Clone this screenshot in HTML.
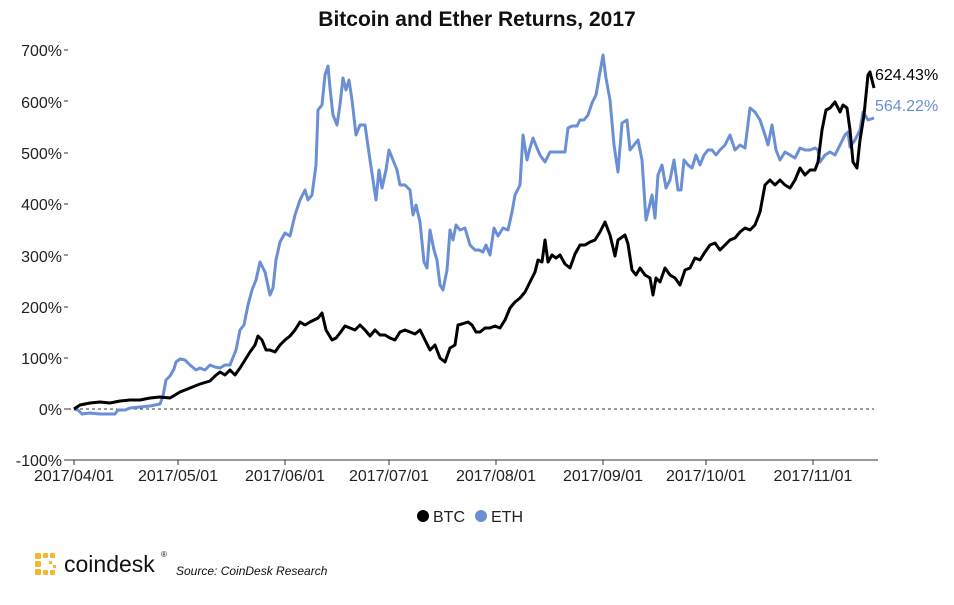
<!DOCTYPE html>
<html><head><meta charset="utf-8"><style>
body{margin:0;background:#fff;width:954px;height:600px;overflow:hidden;font-family:"Liberation Sans",sans-serif}
</style></head><body>
<svg width="954" height="600" xmlns="http://www.w3.org/2000/svg" font-family="Liberation Sans, sans-serif">
<text x="477" y="26" text-anchor="middle" font-size="21" font-weight="bold" fill="#111">Bitcoin and Ether Returns, 2017</text>
<g font-size="16" fill="#222" text-anchor="end">
<text x="62" y="56">700%</text><text x="62" y="108">600%</text><text x="62" y="159">500%</text>
<text x="62" y="210">400%</text><text x="62" y="262">300%</text><text x="62" y="313">200%</text>
<text x="62" y="364">100%</text><text x="62" y="415">0%</text><text x="62" y="466">-100%</text>
</g>
<g stroke="#333" stroke-width="1">
<line x1="64" y1="50" x2="68" y2="50"/><line x1="64" y1="101" x2="68" y2="101"/><line x1="64" y1="153" x2="68" y2="153"/>
<line x1="64" y1="204" x2="68" y2="204"/><line x1="64" y1="255" x2="68" y2="255"/><line x1="64" y1="307" x2="68" y2="307"/>
<line x1="64" y1="358" x2="68" y2="358"/><line x1="64" y1="409" x2="68" y2="409"/>
<line x1="64" y1="460" x2="878" y2="460"/>
<line x1="74" y1="460" x2="74" y2="465"/><line x1="178" y1="460" x2="178" y2="465"/><line x1="285" y1="460" x2="285" y2="465"/>
<line x1="389" y1="460" x2="389" y2="465"/><line x1="496" y1="460" x2="496" y2="465"/><line x1="603" y1="460" x2="603" y2="465"/>
<line x1="706" y1="460" x2="706" y2="465"/><line x1="813" y1="460" x2="813" y2="465"/>
</g>
<line x1="68" y1="409" x2="874" y2="409" stroke="#333" stroke-width="1" stroke-dasharray="3,3"/>
<g font-size="16" fill="#222" text-anchor="middle">
<text x="74" y="481">2017/04/01</text><text x="178" y="481">2017/05/01</text><text x="285" y="481">2017/06/01</text>
<text x="389" y="481">2017/07/01</text><text x="496" y="481">2017/08/01</text><text x="603" y="481">2017/09/01</text>
<text x="706" y="481">2017/10/01</text><text x="813" y="481">2017/11/01</text>
</g>
<polyline fill="none" stroke="#6a8fd4" stroke-width="3" stroke-linejoin="round" points="74,409 78,410 82,414 90,413 100,414 110,414 115,414 118,410 125,410 130,408 140,407 150,406 160,404 163,396 166,380 170,376 174,369 176,362 180,359 185,360 190,365 196,370 200,368 205,370 210,365 215,367 220,368 225,365 230,365 236,350 240,330 244,325 248,305 252,290 256,280 260,262 265,272 270,295 273,288 276,260 280,242 285,233 290,236 295,215 300,200 305,190 308,200 312,195 316,165 318,110 322,105 325,75 328,66 330,88 333,115 337,125 340,105 343,78 346,90 349,80 352,100 356,135 360,125 365,125 370,160 373,180 376,200 379,170 382,188 386,170 389,150 393,160 397,170 400,185 405,185 410,190 413,215 416,205 420,222 424,262 427,268 430,230 434,250 437,260 440,285 443,290 447,270 450,230 453,240 456,225 460,230 465,228 470,245 475,250 479,250 483,252 486,245 490,255 494,228 498,236 503,228 508,230 512,212 515,195 520,185 523,135 527,160 530,148 533,138 537,148 540,155 545,162 550,152 555,152 560,152 565,152 568,128 572,126 577,126 580,120 584,120 588,115 592,103 596,95 600,72 603,55 606,78 610,100 614,145 618,172 622,123 627,120 630,150 634,145 638,140 642,160 646,220 649,208 652,195 655,218 658,175 662,165 666,188 670,180 674,160 678,190 681,190 684,160 688,165 692,168 696,155 700,165 704,155 708,150 712,150 716,155 720,150 725,145 730,135 735,150 740,145 745,148 750,108 755,112 760,120 765,135 768,145 772,125 776,150 780,160 785,152 790,155 795,158 800,148 805,150 810,150 815,148 818,150 820,162 825,155 830,152 835,155 840,145 845,135 848,132 850,147 855,140 860,130 863,112 868,120 874,118"/>
<polyline fill="none" stroke="#000" stroke-width="3" stroke-linejoin="round" points="74,409 80,405 90,403 100,402 110,403 120,401 130,400 140,400 150,398 160,397 170,398 175,395 180,392 190,388 200,384 210,381 215,376 220,372 225,375 230,370 235,375 240,368 245,360 250,352 255,345 258,336 262,340 266,350 270,350 275,352 280,345 285,340 290,336 295,330 300,322 305,325 310,322 318,318 322,313 326,330 332,340 336,338 340,333 345,326 350,328 355,330 360,325 365,330 370,336 375,330 380,335 385,335 390,338 395,340 400,332 405,330 410,332 415,334 420,330 425,340 430,350 435,345 440,358 445,362 450,348 455,345 458,325 462,324 468,322 472,325 476,332 480,332 485,328 490,328 495,326 500,328 505,320 510,308 515,302 520,298 525,292 530,282 535,272 538,260 542,262 545,240 548,262 552,255 556,258 560,255 565,264 570,268 575,254 580,245 585,245 590,242 595,240 600,232 605,222 610,235 615,256 618,240 625,235 628,244 632,270 636,275 640,268 645,275 650,278 653,295 656,278 660,282 665,268 670,275 675,278 680,285 685,270 690,268 695,258 700,260 705,252 710,245 715,243 720,250 725,245 730,240 735,238 740,232 745,228 750,230 755,225 760,212 765,185 770,180 775,185 780,180 785,185 790,188 795,180 800,168 805,175 810,170 815,170 818,162 822,130 826,110 830,108 835,102 840,112 843,105 847,108 850,130 853,162 857,168 860,140 864,115 868,75 870,72 874,88"/>
<text x="875" y="80" font-size="16" fill="#000">624.43%</text>
<text x="875" y="111" font-size="16" fill="#6a8fd4">564.22%</text>
<circle cx="423" cy="516" r="6" fill="#000"/><text x="433" y="522" font-size="16" fill="#222">BTC</text>
<circle cx="481" cy="516" r="6" fill="#6a8fd4"/><text x="491" y="522" font-size="16" fill="#222">ETH</text>
<g fill="#f5b82e">
<rect x="35" y="553" width="6" height="6" rx="1"/><rect x="43" y="553" width="5" height="5" rx="1"/><rect x="50" y="553" width="5" height="5" rx="1"/>
<rect x="35" y="561" width="6" height="6" rx="1"/><rect x="35" y="569" width="6" height="6" rx="1"/>
<rect x="43" y="570" width="5" height="5" rx="1"/><rect x="50" y="570" width="5" height="5" rx="1"/>
<rect x="49" y="561" width="3" height="3"/><rect x="53" y="565" width="3" height="3"/>
</g>
<text x="64" y="572" font-size="23" fill="#111">coindesk</text>
<text x="161" y="557" font-size="8" fill="#111">®</text>
<text x="176" y="575" font-size="12" font-style="italic" fill="#111">Source: CoinDesk Research</text>
</svg>
</body></html>
